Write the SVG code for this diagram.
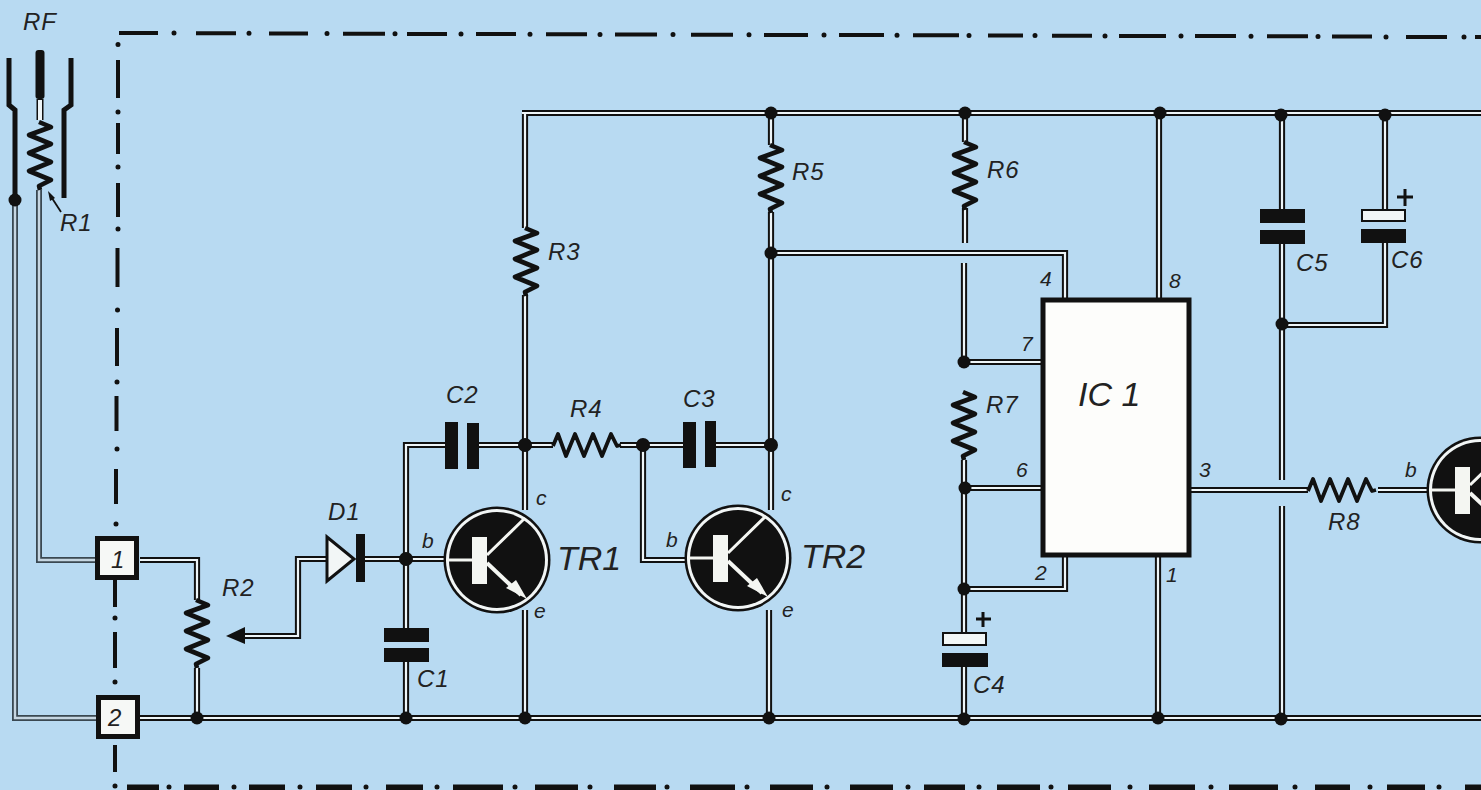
<svg xmlns="http://www.w3.org/2000/svg" width="1481" height="790" viewBox="0 0 1481 790">
<style>
.bg{fill:#b8daf2}
.wo{fill:none;stroke:#111;stroke-width:6.2;stroke-linejoin:miter}
.wi{fill:none;stroke:#eef5f8;stroke-width:2.2;stroke-linejoin:miter}
.go{fill:none;stroke:#3a4852;stroke-width:6}
.gi{fill:none;stroke:#c6d6e2;stroke-width:2.4}
.z{fill:none;stroke:#111;stroke-width:4.6;stroke-linejoin:round;stroke-linecap:butt}
.zh{stroke-width:3.8}
.d{fill:#111}
.p{fill:#111}
.wp{fill:#f2f6f6;stroke:#111;stroke-width:2}
.b{fill:none;stroke:#111;stroke-width:4}
.bd{fill:none;stroke:#111;stroke-width:5;stroke-linecap:round}
.t{font-family:"Liberation Sans",Arial,sans-serif;font-style:italic;fill:#222;font-size:24px;letter-spacing:1px}
.s{font-size:21px;letter-spacing:0}
.l{font-size:34px;letter-spacing:0}
.box{fill:#f6f8f6;stroke:#111;stroke-width:5}
.a{fill:none;stroke:#111;stroke-width:5}
.plus{fill:none;stroke:#111;stroke-width:3}
</style>
<defs>
<path id="rz" d="M-1,0L11,5L-11,13L11,22L-11,31L11,40L-11,49L11,58L-1,64L0,68"/>
<path id="wires" d="M522,113H1481M525,113V228M525,295V510M525,610V718M771,113V145M771,212V510M769,610V718M965,113V142M965,208V243M964,263V361M964,460V632M964,666V719M1159,113V300M1158,555V719M1282,115V209M1282,243V480M1282,506V720M1385,115V210M1385,243V325H1282M771,253H1065V299M964,362H1042M964,488H1042M964,589H1065V557M1190,490H1308M1378,490H1428M643,445V560H686M406,559V445H445M479,445H553M620,445H683M716,445H771M364,559H445M406,559V628M406,662V718M140,560H197V600M197,668V718M140,718H1481M245,636H298V559H326"/>
<path id="wiresg" d="M15,200V718H96M39,190V560H96"/>
<g id="tr">
<circle r="53.5" fill="#111"/><circle r="51" fill="#f2f6f6"/><circle r="48" fill="#111"/>
<rect x="-25" y="-23" width="15" height="47" fill="#f4f6f2"/>
<path d="M-51,0H-25M-10,-5L28,-42" fill="none" stroke="#f4f6f2" stroke-width="3"/>
<path d="M-10,3L24,35" fill="none" stroke="#f4f6f2" stroke-width="4"/>
<polygon points="30,39 9,28 19,20" fill="#f4f6f2"/>
</g>
</defs>
<rect class="bg" width="1481" height="790"/>
<g id="boundary">
<path class="b" d="M119,33H158M196,33.2H236M269,33.5H308M343,33.7H385M407,33.9H447M476,34H516M546,34.3H587M615,34.5H657M691,34.7H733M764,35H808M839,35H884M913,35.3H959M988,35.5H1023M1052,35.7H1092M1119,36H1166M1195,36H1236M1267,36.2H1308M1332,36.5H1372M1406,37H1447M1475,37H1481"/>
<path class="bd" d="M174,33h.01M249,33.3h.01M327,33.6h.01M395,33.8h.01M461,34h.01M530,34.2h.01M600,34.4h.01M673,34.6h.01M749,34.8h.01M824,35h.01M897,35.2h.01M969,35.4h.01M1035,35.6h.01M1105,36h.01M1181,36h.01M1251,36.2h.01M1318,36.4h.01M1386,37h.01M1464,37h.01"/>
<path class="b" d="M118,60V98M118,123V154M118,183V217M117.500,248V287M117,328V366M116.500,396V431M116,469V504M115,580V607M115,632V668M115,745V772"/>
<path class="bd" d="M118,44.500h.01M118,112h.01M118,167h.01M118,229h.01M117.500,310h.01M117,382h.01M117,449h.01M116,524h.01M115,618h.01M115,682h.01M115,786h.01"/>
<path class="b" style="stroke-width:9" d="M127,789H159M184,789H219M249,789H285M316,789H352M386,789H423M453,789H503M535,789H578M614,789H656M690,789H735M770,789H813M850,789H893M924,789H965M997,789H1040M1068,789H1111M1149,789H1195M1229,789H1278M1315,789H1350M1387,789H1425M1465,789H1481"/>
<path class="bd" d="M169,787h.01M234,787h.01M300,787h.01M366,787h.01M437,787h.01M515,787h.01M590,787h.01M667,787h.01M747,787h.01M827,787h.01M908,787h.01M979,787h.01M1051,787h.01M1130,787h.01M1211,787h.01M1295,787h.01M1370,787h.01M1439,787h.01"/>
</g>
<g id="connectors">
<use href="#wiresg" class="go"/><use href="#wiresg" class="gi"/>
<use href="#wires" class="wo"/><use href="#wires" class="wi"/>
<g class="d">
<circle cx="15" cy="200" r="6.500"/><circle cx="197" cy="718" r="6.500"/><circle cx="406" cy="559" r="7"/><circle cx="406" cy="718" r="6.500"/><circle cx="525" cy="445" r="7"/><circle cx="525" cy="718" r="6.500"/><circle cx="643" cy="445" r="7"/><circle cx="771" cy="445" r="7"/><circle cx="771" cy="113" r="6.500"/><circle cx="771" cy="253" r="6.500"/><circle cx="769" cy="718" r="6.500"/><circle cx="965" cy="113" r="6.500"/><circle cx="964" cy="362" r="6.500"/><circle cx="965" cy="488" r="6.500"/><circle cx="964" cy="589" r="6.500"/><circle cx="964" cy="719" r="6.500"/><circle cx="1160" cy="113" r="6.500"/><circle cx="1158" cy="718" r="6.500"/><circle cx="1281" cy="115" r="6.500"/><circle cx="1385" cy="115" r="6.500"/><circle cx="1282" cy="324" r="6.500"/><circle cx="1281" cy="719" r="6.500"/>
</g>
</g>
<g id="RF"><text class="t" x="23" y="30" letter-spacing="3">RF</text>
<path class="a" d="M9,58V105L15,110V197M71,58V105L64,110V198"/>
<rect x="35.500" y="50" width="9" height="49" rx="3" class="p"/>
<path d="M40,99V120" stroke="#111" stroke-width="7" fill="none"/><path d="M40,100V120" stroke="#eef5f8" stroke-width="4" fill="none"/>
</g>
<g id="R1"><use href="#rz" class="z" transform="translate(40,122)"/>
<path d="M61,212L50,195" stroke="#111" stroke-width="1.800" fill="none"/><polygon class="p" points="48,191 55,198 50,201"/>
<text class="t" x="60" y="231">R1</text></g>
<g id="T1"><rect class="box" x="97.500" y="538.500" width="39" height="39"/><text class="t" x="111" y="568">1</text></g>
<g id="T2"><rect class="box" x="98.500" y="697.500" width="39" height="39"/><text class="t" x="108" y="726">2</text></g>
<g id="R2"><use href="#rz" class="z" transform="translate(197,600)"/><polygon class="p" points="226,636 245,627 245,644"/><text class="t" x="222" y="596">R2</text></g>
<g id="D1"><polygon points="327,537 327,581 354,559" fill="#f2f6f6" stroke="#111" stroke-width="3"/><rect class="p" x="356" y="534" width="9" height="48"/><text class="t" x="328" y="520">D1</text></g>
<g id="C1"><rect class="p" x="384" y="628" width="45" height="14"/><rect class="p" x="384" y="648" width="45" height="14"/><text class="t" x="417" y="687">C1</text></g>
<g id="C2"><rect class="p" x="445" y="422" width="13" height="47"/><rect class="p" x="467" y="423" width="12" height="46"/><text class="t" x="446" y="403">C2</text></g>
<g id="C3"><rect class="p" x="683" y="422" width="13" height="46"/><rect class="p" x="705" y="421" width="11" height="46"/><text class="t" x="683" y="407">C3</text></g>
<g id="R3"><use href="#rz" class="z" transform="translate(526,228)"/><text class="t" x="548" y="260">R3</text></g>
<g id="R4"><use href="#rz" class="z zh" transform="translate(553,445) rotate(-90)"/><text class="t" x="570" y="417">R4</text></g>
<g id="R5"><use href="#rz" class="z" transform="translate(771,145)"/><text class="t" x="792" y="180">R5</text></g>
<g id="R6"><use href="#rz" class="z" transform="translate(965,142)"/><text class="t" x="987" y="178">R6</text></g>
<g id="R7"><use href="#rz" class="z" transform="translate(964,392)"/><text class="t" x="986" y="413">R7</text></g>
<g id="R8"><use href="#rz" class="z zh" transform="translate(1308,490) rotate(-90)"/><text class="t" x="1328" y="530">R8</text></g>
<g id="TR1"><use href="#tr" transform="translate(497,560)"/><text class="t l" x="557" y="570">TR1</text><text class="t s" x="422" y="548">b</text><text class="t s" x="536" y="505">c</text><text class="t s" x="534" y="618">e</text></g>
<g id="TR2"><use href="#tr" transform="translate(738,558)"/><text class="t l" x="801" y="568">TR2</text><text class="t s" x="666" y="547">b</text><text class="t s" x="781" y="501">c</text><text class="t s" x="782" y="617">e</text></g>
<g id="TR3"><use href="#tr" transform="translate(1480,490)"/><text class="t s" x="1405" y="477">b</text></g>
<g id="C4"><rect class="wp" x="943" y="633" width="43" height="12"/><rect class="p" x="942" y="653" width="46" height="14"/><path class="plus" d="M976,619H991M983,612V627"/><text class="t" x="973" y="693">C4</text></g>
<g id="C5"><rect class="p" x="1260" y="209" width="45" height="14"/><rect class="p" x="1260" y="230" width="45" height="14"/><text class="t" x="1296" y="271" letter-spacing="3">C5</text></g>
<g id="C6"><rect class="wp" x="1362" y="210" width="43" height="11"/><rect class="p" x="1361" y="229" width="45" height="14"/><path class="plus" d="M1397,197H1413M1405,189V206"/><text class="t" x="1391" y="268">C6</text></g>
<g id="IC1"><rect x="1043" y="300" width="146" height="255" fill="#fdfdfb" stroke="#111" stroke-width="5"/><text class="t l" x="1078" y="406">IC 1</text>
<text class="t s" x="1040" y="286">4</text><text class="t s" x="1169" y="288">8</text><text class="t s" x="1021" y="351">7</text><text class="t s" x="1016" y="477">6</text><text class="t s" x="1199" y="477">3</text><text class="t s" x="1035" y="580">2</text><text class="t s" x="1166" y="582">1</text></g>
</svg>
